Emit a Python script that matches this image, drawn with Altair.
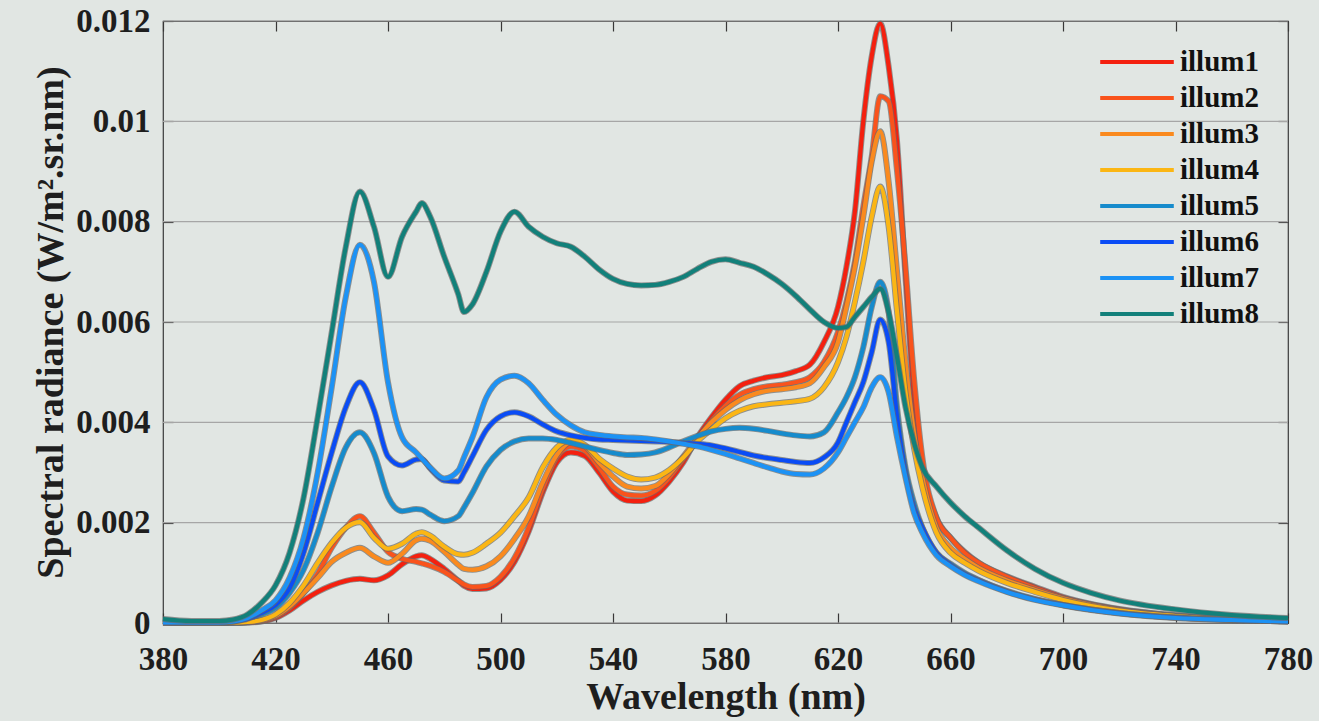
import altair as alt
import pandas as pd

wavelength = [380, 390, 400, 405, 410, 415, 420, 425, 430, 435,
              440, 445, 450, 455, 460, 465, 470, 472, 475, 480,
              485, 487, 490, 495, 500, 505, 510, 515, 520, 525,
              530, 535, 540, 545, 550, 555, 560, 565, 570, 575,
              580, 585, 590, 595, 600, 605, 610, 615, 620, 623,
              626, 629, 632, 635, 638, 641, 644, 647, 650, 655,
              660, 665, 670, 680, 690, 700, 710, 720, 740, 760,
              780]

illum1 = [0.00001, 0.0, 0.0, 0.0, 0.00001, 0.00003, 0.0001, 0.00025, 0.00045, 0.00062,
          0.00075, 0.00084, 0.00088, 0.00085, 0.00095, 0.00117, 0.00133, 0.00135, 0.00128, 0.00108,
          0.00084, 0.00074, 0.00068, 0.00069, 0.00086, 0.00122, 0.00182, 0.0026, 0.0032, 0.0034,
          0.00333, 0.003, 0.00262, 0.00244, 0.00243, 0.00254, 0.00282, 0.0032, 0.0037, 0.0041,
          0.00445, 0.00472, 0.00483, 0.0049, 0.00494, 0.00502, 0.00515, 0.0056, 0.0063, 0.0071,
          0.0082, 0.0100, 0.0113, 0.01195, 0.0111, 0.0096, 0.0069, 0.0045, 0.0031, 0.0021,
          0.0017, 0.00142, 0.0012, 0.00093, 0.00072, 0.00052, 0.00038, 0.00028, 0.00015, 0.00008,
          0.00004]

illum2 = [0.00001, 0.0, 0.0, 0.0, 0.00001, 0.00004, 0.00012, 0.0003, 0.0006, 0.00098,
          0.0015, 0.0019, 0.00213, 0.0018, 0.00142, 0.00128, 0.00122, 0.00119, 0.00114, 0.00102,
          0.00084, 0.00077, 0.00072, 0.00074, 0.00092, 0.0013, 0.0019, 0.00268, 0.0033, 0.00352,
          0.00343, 0.0031, 0.00272, 0.00256, 0.00254, 0.00263, 0.0029, 0.00327, 0.00366, 0.00403,
          0.00433, 0.00455, 0.00466, 0.00472, 0.00475, 0.0048, 0.0049, 0.0052, 0.0058, 0.0064,
          0.0072, 0.0083, 0.0093, 0.0105, 0.0104, 0.0090, 0.0071, 0.0049, 0.0033, 0.0021,
          0.0017, 0.0014, 0.0012, 0.00092, 0.0007, 0.0005, 0.00037, 0.00027, 0.00015, 0.00008,
          0.00004]

illum3 = [0.00001, 0.0, 0.0, 0.00001, 0.00002, 0.00005, 0.00014, 0.00033, 0.0006, 0.0009,
          0.00122, 0.0014, 0.0015, 0.00133, 0.0012, 0.00138, 0.00165, 0.00168, 0.00164, 0.00142,
          0.00116, 0.00108, 0.00106, 0.00113, 0.00133, 0.00168, 0.00212, 0.0028, 0.00335, 0.0036,
          0.00352, 0.0032, 0.00292, 0.00272, 0.00268, 0.00273, 0.00297, 0.00332, 0.00368, 0.004,
          0.00425, 0.00444, 0.00456, 0.00463, 0.00466, 0.0047, 0.00478, 0.0051, 0.0056, 0.0063,
          0.0071, 0.0081, 0.0092, 0.0098, 0.0088, 0.0070, 0.0052, 0.0038, 0.0029, 0.0019,
          0.0015, 0.00128, 0.0011, 0.00085, 0.00066, 0.00049, 0.00036, 0.00026, 0.00014, 0.00008,
          0.00004]

illum4 = [0.00001, 0.0, 0.0, 0.00001, 0.00002, 0.00006, 0.00017, 0.0004, 0.00075, 0.0012,
          0.0016, 0.0019, 0.00201, 0.0017, 0.00148, 0.00158, 0.00178, 0.00181, 0.00174, 0.00152,
          0.00137, 0.00136, 0.0014, 0.00158, 0.0018, 0.00213, 0.0025, 0.0031, 0.0035, 0.00365,
          0.00355, 0.00328, 0.00308, 0.00292, 0.00286, 0.0029, 0.00305, 0.0033, 0.00362, 0.00386,
          0.00408, 0.00423, 0.00432, 0.00436, 0.00439, 0.00442, 0.00447, 0.0047, 0.0052, 0.0057,
          0.0064, 0.0072, 0.0081, 0.0087, 0.0079, 0.0062, 0.0046, 0.0035, 0.0027, 0.0018,
          0.0014, 0.0012, 0.00104, 0.0008, 0.00062, 0.00046, 0.00034, 0.00025, 0.00014, 0.00007,
          0.00004]

illum5 = [0.00002, 0.00001, 0.00002, 0.00004, 0.0001, 0.00017, 0.0003, 0.0006, 0.00106, 0.0018,
          0.00272, 0.0035, 0.0038, 0.00339, 0.00252, 0.00223, 0.00227, 0.00226, 0.00216, 0.00203,
          0.00213, 0.0023, 0.00259, 0.00312, 0.00345, 0.00362, 0.00368, 0.00368, 0.00365, 0.00359,
          0.00352, 0.00345, 0.00339, 0.00335, 0.00336, 0.0034, 0.0035, 0.00362, 0.00373, 0.00382,
          0.00387, 0.00389, 0.00387, 0.00383, 0.00378, 0.00374, 0.00372, 0.0038, 0.0042, 0.0045,
          0.0049, 0.0055, 0.0063, 0.0068, 0.0062, 0.0043, 0.0031, 0.0024, 0.0019, 0.0014,
          0.00118, 0.001, 0.00086, 0.00064, 0.00048, 0.00036, 0.00027, 0.0002, 0.00011, 0.00006,
          0.00003]

illum6 = [0.00001, 0.00001, 0.00001, 0.00003, 0.00008, 0.0002, 0.00036, 0.0007, 0.0014, 0.0024,
          0.0034, 0.0043, 0.0048, 0.00425, 0.00332, 0.00314, 0.00326, 0.00327, 0.00308, 0.00284,
          0.00282, 0.003, 0.00332, 0.00385, 0.00412, 0.0042, 0.00412, 0.00396, 0.00382, 0.00374,
          0.00369, 0.00366, 0.00365, 0.00364, 0.00363, 0.00362, 0.00361, 0.00359, 0.00357, 0.00354,
          0.00348, 0.00341, 0.00334, 0.00329, 0.00325, 0.00321, 0.00319, 0.0033, 0.0036, 0.004,
          0.0044, 0.0048, 0.0054, 0.00605, 0.0056, 0.0041, 0.003, 0.0023, 0.0019, 0.0014,
          0.00116, 0.00098, 0.00085, 0.00063, 0.00047, 0.00036, 0.00027, 0.0002, 0.00011, 0.00006,
          0.00003]

illum7 = [0.00001, 0.00001, 0.00001, 0.00003, 0.0001, 0.00025, 0.00045, 0.0009, 0.0017, 0.003,
          0.0047, 0.0065, 0.00754, 0.0068, 0.0048, 0.0037, 0.0034, 0.00328, 0.0031, 0.00288,
          0.00304, 0.0033, 0.0037, 0.0045, 0.00485, 0.00493, 0.00478, 0.00445, 0.00415, 0.00394,
          0.0038, 0.00375, 0.00372, 0.0037, 0.00369, 0.00366, 0.00362, 0.00357, 0.00352, 0.00345,
          0.00337, 0.00328, 0.00319, 0.0031, 0.00302, 0.00297, 0.00296, 0.00308, 0.0034, 0.0037,
          0.004, 0.0043, 0.0047, 0.0049, 0.0046, 0.0037, 0.0029, 0.0022, 0.0018, 0.00135,
          0.00113, 0.00096, 0.00083, 0.00062, 0.00046, 0.00035, 0.00026, 0.00019, 0.0001, 0.00006,
          0.00003]

illum8 = [0.00008, 0.00004, 0.00004, 0.00007, 0.00017, 0.0004, 0.00075, 0.0014, 0.0025, 0.0041,
          0.0058, 0.0075, 0.0086, 0.0079, 0.0069, 0.0077, 0.0082, 0.00837, 0.0081, 0.0073,
          0.00655, 0.0062, 0.00635, 0.0070, 0.0078, 0.0082, 0.0079, 0.0077, 0.00757, 0.0075,
          0.0073, 0.00705, 0.00686, 0.00676, 0.00673, 0.00674, 0.0068, 0.0069, 0.00706, 0.0072,
          0.00725, 0.00718, 0.0071, 0.00695, 0.00676, 0.00652, 0.00625, 0.006, 0.00588, 0.0059,
          0.0061, 0.0063, 0.0065, 0.00666, 0.0062, 0.0053, 0.0043, 0.0036, 0.0031, 0.00272,
          0.0024, 0.00213, 0.0019, 0.00145, 0.00108, 0.0008, 0.0006, 0.00045, 0.00027, 0.00016,
          0.0001]

series_names = ["illum1", "illum2", "illum3", "illum4", "illum5", "illum6", "illum7", "illum8"]
series_values = [illum1, illum2, illum3, illum4, illum5, illum6, illum7, illum8]
series_colors = ["#f4200f", "#f9531c", "#fa8a1e", "#fbb614", "#168bcc", "#0a4cf5", "#1c92f5", "#12807a"]

x_ticks = [380, 420, 460, 500, 540, 580, 620, 660, 700, 740, 780]
y_ticks = [0, 0.002, 0.004, 0.006, 0.008, 0.01, 0.012]

rows = []
for name, vals in zip(series_names, series_values):
    for w, v in zip(wavelength, vals):
        rows.append({"wavelength": w, "value": v, "series": name})
df = pd.DataFrame(rows)
grid_df = pd.DataFrame({"value": y_ticks})

FONT = "Liberation Serif"
BG = "#e1e6e3"
xscale = alt.Scale(domain=[380, 780], nice=False, zero=False)
yscale = alt.Scale(domain=[0, 0.012], nice=False, zero=False)
color_scale = alt.Scale(domain=series_names, range=series_colors)

tick_common = dict(offset=-10, tickSize=10, tickColor="#383838", tickWidth=1.2,
                   domain=False, grid=False)
text_common = dict(labelFont=FONT, labelFontWeight="bold", labelColor="#1e1e1e",
                   titleFont=FONT, titleFontWeight="bold", titleColor="#1e1e1e")

axis_bottom = alt.Axis(orient="bottom", values=x_ticks, title="Wavelength (nm)",
                       labelFlush=False, labelOverlap=False, labelPadding=20,
                       labelFontSize=33, titleFontSize=38, titlePadding=2,
                       **tick_common, **text_common)
axis_left = alt.Axis(orient="left", values=y_ticks, format="~g",
                     title="Spectral radiance (W/m².sr.nm)",
                     labelFlush=False, labelOverlap=False, labelPadding=13,
                     labelFontSize=33, titleFontSize=38, titlePadding=5,
                     **tick_common, **text_common)
axis_top = alt.Axis(orient="top", values=x_ticks, labels=False, title="", **tick_common)
axis_right = alt.Axis(orient="right", values=y_ticks, labels=False, title="", **tick_common)

legend = alt.Legend(orient="none", legendX=956, legendY=23, title=None,
                    symbolType="M-2.3,0H2.3", symbolSize=1024, symbolStrokeWidth=4,
                    labelFont=FONT, labelFontSize=29, labelFontWeight="bold",
                    labelColor="#111111", labelOffset=25, rowPadding=3, padding=0)

grid = alt.Chart(grid_df).mark_rule(color="#a6a6a6", strokeWidth=1.2).encode(
    y=alt.Y("value:Q", scale=yscale, axis=None)
)

axes_a = alt.Chart(df).mark_line(opacity=0).encode(
    x=alt.X("wavelength:Q", scale=xscale, axis=axis_bottom),
    y=alt.Y("value:Q", scale=yscale, axis=axis_left),
    detail="series:N",
)
axes_b = alt.Chart(df).mark_line(opacity=0).encode(
    x=alt.X("wavelength:Q", scale=xscale, axis=axis_top),
    y=alt.Y("value:Q", scale=yscale, axis=axis_right),
    detail="series:N",
)

layers = [grid, axes_a, axes_b]
for i, name in enumerate(series_names):
    base = alt.Chart(df).transform_filter(alt.datum.series == name)
    outline = base.mark_line(color="#6a6a6a", strokeWidth=6, opacity=0.7,
                             interpolate="monotone").encode(
        x=alt.X("wavelength:Q", scale=xscale, axis=None),
        y=alt.Y("value:Q", scale=yscale, axis=None),
    )
    core = base.mark_line(strokeWidth=4.2, interpolate="monotone").encode(
        x=alt.X("wavelength:Q", scale=xscale, axis=None),
        y=alt.Y("value:Q", scale=yscale, axis=None),
        color=alt.Color("series:N", scale=color_scale,
                        legend=legend if i == 0 else None),
    )
    layers += [outline, core]

chart = alt.layer(*layers).properties(
    width=1125,
    height=602,
    background=BG,
    padding={"left": 163, "top": 21, "right": 31, "bottom": 98},
    autosize=alt.AutoSizeParams(type="none"),
).configure_view(stroke="#3a3a3a", strokeWidth=1.2, fill=BG)

chart.save("out.html", embed_options={"renderer": "svg", "actions": False})
